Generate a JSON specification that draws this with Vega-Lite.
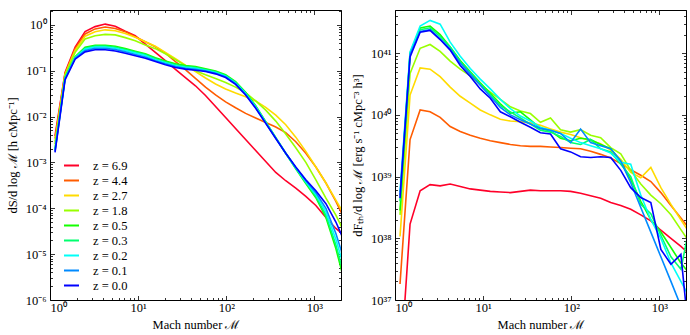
{
"$schema":"https://vega.github.io/schema/vega-lite/v6.json",
"padding":{"left":5,"top":9,"right":0,"bottom":0},
"background":"white",
"bounds":"flush",
"spacing":54,
"config":{"view":{"stroke":"black","strokeWidth":1},"font":"Liberation Serif","axis":{"labelFont":"Liberation Serif","labelFontSize":12.5,"labelColor":"black","titleFont":"Liberation Serif","titleFontSize":12.5,"titleFontWeight":"normal","titleColor":"black","tickColor":"black","tickWidth":0.8,"domain":false,"grid":false}},
"resolve":{"scale":{"color":"independent"}},
"datasets":{
"L":[
{"z":"6.9","M":1.14,"v":0.0038},{"z":"6.9","M":1.482,"v":0.0912},{"z":"6.9","M":1.928,"v":0.324},{"z":"6.9","M":2.5,"v":0.708},{"z":"6.9","M":3.251,"v":0.912},{"z":"6.9","M":4.227,"v":1.035},{"z":"6.9","M":5.495,"v":0.933},{"z":"6.9","M":7.145,"v":0.724},{"z":"6.9","M":9.268,"v":0.575},{"z":"6.9","M":12.05,"v":0.38},{"z":"6.9","M":15.67,"v":0.251},{"z":"6.9","M":20.37,"v":0.166},{"z":"6.9","M":26.49,"v":0.107},{"z":"6.9","M":34.36,"v":0.0708},{"z":"6.9","M":44.67,"v":0.0468},{"z":"6.9","M":58.08,"v":0.0288},{"z":"6.9","M":75.51,"v":0.0166},{"z":"6.9","M":98.17,"v":0.00955},{"z":"6.9","M":127.4,"v":0.0055},{"z":"6.9","M":165.6,"v":0.00316},{"z":"6.9","M":215.3,"v":0.00182},{"z":"6.9","M":279.9,"v":0.00105},{"z":"6.9","M":363.9,"v":6.03e-4},{"z":"6.9","M":472.1,"v":3.98e-4},{"z":"6.9","M":613.8,"v":2.75e-4},{"z":"6.9","M":798,"v":1.82e-4},{"z":"6.9","M":1037,"v":1.15e-4},{"z":"6.9","M":1349,"v":6.31e-5},{"z":"6.9","M":1750,"v":3.63e-5},{"z":"6.9","M":2275,"v":2.4e-5},
{"z":"4.4","M":1.14,"v":0.00331},{"z":"4.4","M":1.482,"v":0.0871},{"z":"4.4","M":1.928,"v":0.302},{"z":"4.4","M":2.5,"v":0.631},{"z":"4.4","M":3.251,"v":0.813},{"z":"4.4","M":4.227,"v":0.891},{"z":"4.4","M":5.495,"v":0.832},{"z":"4.4","M":7.145,"v":0.708},{"z":"4.4","M":9.268,"v":0.55},{"z":"4.4","M":12.05,"v":0.427},{"z":"4.4","M":15.67,"v":0.331},{"z":"4.4","M":20.37,"v":0.24},{"z":"4.4","M":26.49,"v":0.158},{"z":"4.4","M":34.36,"v":0.105},{"z":"4.4","M":44.67,"v":0.0676},{"z":"4.4","M":58.08,"v":0.0437},{"z":"4.4","M":75.51,"v":0.0295},{"z":"4.4","M":98.17,"v":0.0209},{"z":"4.4","M":127.4,"v":0.0155},{"z":"4.4","M":165.6,"v":0.0117},{"z":"4.4","M":215.3,"v":0.00933},{"z":"4.4","M":279.9,"v":0.00741},{"z":"4.4","M":363.9,"v":0.00589},{"z":"4.4","M":472.1,"v":0.00447},{"z":"4.4","M":613.8,"v":0.00282},{"z":"4.4","M":798,"v":0.00158},{"z":"4.4","M":1037,"v":7.94e-4},{"z":"4.4","M":1349,"v":3.55e-4},{"z":"4.4","M":1750,"v":1.41e-4},{"z":"4.4","M":2275,"v":5.01e-5},
{"z":"2.7","M":1.14,"v":0.00282},{"z":"2.7","M":1.482,"v":0.0813},{"z":"2.7","M":1.928,"v":0.275},{"z":"2.7","M":2.5,"v":0.562},{"z":"2.7","M":3.251,"v":0.708},{"z":"2.7","M":4.227,"v":0.776},{"z":"2.7","M":5.495,"v":0.741},{"z":"2.7","M":7.145,"v":0.646},{"z":"2.7","M":9.268,"v":0.537},{"z":"2.7","M":12.05,"v":0.427},{"z":"2.7","M":15.67,"v":0.339},{"z":"2.7","M":20.37,"v":0.251},{"z":"2.7","M":26.49,"v":0.182},{"z":"2.7","M":34.36,"v":0.132},{"z":"2.7","M":44.67,"v":0.0955},{"z":"2.7","M":58.08,"v":0.0692},{"z":"2.7","M":75.51,"v":0.0513},{"z":"2.7","M":98.17,"v":0.0398},{"z":"2.7","M":127.4,"v":0.0324},{"z":"2.7","M":165.6,"v":0.0269},{"z":"2.7","M":215.3,"v":0.0219},{"z":"2.7","M":279.9,"v":0.0158},{"z":"2.7","M":363.9,"v":0.0107},{"z":"2.7","M":472.1,"v":0.00661},{"z":"2.7","M":613.8,"v":0.00355},{"z":"2.7","M":798,"v":0.00174},{"z":"2.7","M":1037,"v":7.94e-4},{"z":"2.7","M":1349,"v":3.55e-4},{"z":"2.7","M":1750,"v":1.51e-4},{"z":"2.7","M":2275,"v":6.31e-5},
{"z":"1.8","M":1.14,"v":0.00251},{"z":"1.8","M":1.482,"v":0.0794},{"z":"1.8","M":1.928,"v":0.251},{"z":"1.8","M":2.5,"v":0.49},{"z":"1.8","M":3.251,"v":0.575},{"z":"1.8","M":4.227,"v":0.617},{"z":"1.8","M":5.495,"v":0.603},{"z":"1.8","M":7.145,"v":0.525},{"z":"1.8","M":9.268,"v":0.447},{"z":"1.8","M":12.05,"v":0.363},{"z":"1.8","M":15.67,"v":0.302},{"z":"1.8","M":20.37,"v":0.234},{"z":"1.8","M":26.49,"v":0.174},{"z":"1.8","M":34.36,"v":0.129},{"z":"1.8","M":44.67,"v":0.1},{"z":"1.8","M":58.08,"v":0.0813},{"z":"1.8","M":75.51,"v":0.0676},{"z":"1.8","M":98.17,"v":0.055},{"z":"1.8","M":127.4,"v":0.0437},{"z":"1.8","M":165.6,"v":0.0331},{"z":"1.8","M":215.3,"v":0.0219},{"z":"1.8","M":279.9,"v":0.0138},{"z":"1.8","M":363.9,"v":0.00794},{"z":"1.8","M":472.1,"v":0.00417},{"z":"1.8","M":613.8,"v":0.00209},{"z":"1.8","M":798,"v":0.001},{"z":"1.8","M":1037,"v":4.17e-4},{"z":"1.8","M":1349,"v":1.66e-4},{"z":"1.8","M":1750,"v":7.08e-5},{"z":"1.8","M":2275,"v":2.51e-5},
{"z":"0.5","M":1.14,"v":0.002},{"z":"0.5","M":1.482,"v":0.0708},{"z":"0.5","M":1.928,"v":0.2},{"z":"0.5","M":2.5,"v":0.324},{"z":"0.5","M":3.251,"v":0.359},{"z":"0.5","M":4.227,"v":0.359},{"z":"0.5","M":5.495,"v":0.339},{"z":"0.5","M":7.145,"v":0.302},{"z":"0.5","M":9.268,"v":0.266},{"z":"0.5","M":12.05,"v":0.234},{"z":"0.5","M":15.67,"v":0.19},{"z":"0.5","M":20.37,"v":0.162},{"z":"0.5","M":26.49,"v":0.141},{"z":"0.5","M":34.36,"v":0.13},{"z":"0.5","M":44.67,"v":0.123},{"z":"0.5","M":58.08,"v":0.11},{"z":"0.5","M":75.51,"v":0.0977},{"z":"0.5","M":98.17,"v":0.0813},{"z":"0.5","M":127.4,"v":0.0575},{"z":"0.5","M":165.6,"v":0.0339},{"z":"0.5","M":215.3,"v":0.0173},{"z":"0.5","M":279.9,"v":0.00776},{"z":"0.5","M":363.9,"v":0.00347},{"z":"0.5","M":472.1,"v":0.00158},{"z":"0.5","M":613.8,"v":7.24e-4},{"z":"0.5","M":798,"v":3.47e-4},{"z":"0.5","M":1037,"v":1.7e-4},{"z":"0.5","M":1349,"v":6.31e-5},{"z":"0.5","M":1750,"v":1.32e-5},{"z":"0.5","M":2275,"v":1.9e-6},
{"z":"0.3","M":1.14,"v":0.00191},{"z":"0.3","M":1.482,"v":0.0692},{"z":"0.3","M":1.928,"v":0.195},{"z":"0.3","M":2.5,"v":0.309},{"z":"0.3","M":3.251,"v":0.343},{"z":"0.3","M":4.227,"v":0.343},{"z":"0.3","M":5.495,"v":0.323},{"z":"0.3","M":7.145,"v":0.288},{"z":"0.3","M":9.268,"v":0.254},{"z":"0.3","M":12.05,"v":0.224},{"z":"0.3","M":15.67,"v":0.181},{"z":"0.3","M":20.37,"v":0.155},{"z":"0.3","M":26.49,"v":0.134},{"z":"0.3","M":34.36,"v":0.124},{"z":"0.3","M":44.67,"v":0.117},{"z":"0.3","M":58.08,"v":0.106},{"z":"0.3","M":75.51,"v":0.0944},{"z":"0.3","M":98.17,"v":0.0785},{"z":"0.3","M":127.4,"v":0.0556},{"z":"0.3","M":165.6,"v":0.0327},{"z":"0.3","M":215.3,"v":0.0167},{"z":"0.3","M":279.9,"v":0.00759},{"z":"0.3","M":363.9,"v":0.00347},{"z":"0.3","M":472.1,"v":0.00158},{"z":"0.3","M":613.8,"v":7.41e-4},{"z":"0.3","M":798,"v":3.63e-4},{"z":"0.3","M":1037,"v":1.82e-4},{"z":"0.3","M":1349,"v":7.08e-5},{"z":"0.3","M":1750,"v":1.58e-5},{"z":"0.3","M":2275,"v":2.5e-6},
{"z":"0.2","M":1.14,"v":0.00182},{"z":"0.2","M":1.482,"v":0.0676},{"z":"0.2","M":1.928,"v":0.191},{"z":"0.2","M":2.5,"v":0.295},{"z":"0.2","M":3.251,"v":0.327},{"z":"0.2","M":4.227,"v":0.327},{"z":"0.2","M":5.495,"v":0.309},{"z":"0.2","M":7.145,"v":0.276},{"z":"0.2","M":9.268,"v":0.242},{"z":"0.2","M":12.05,"v":0.214},{"z":"0.2","M":15.67,"v":0.173},{"z":"0.2","M":20.37,"v":0.148},{"z":"0.2","M":26.49,"v":0.128},{"z":"0.2","M":34.36,"v":0.118},{"z":"0.2","M":44.67,"v":0.112},{"z":"0.2","M":58.08,"v":0.102},{"z":"0.2","M":75.51,"v":0.0912},{"z":"0.2","M":98.17,"v":0.0759},{"z":"0.2","M":127.4,"v":0.0537},{"z":"0.2","M":165.6,"v":0.0316},{"z":"0.2","M":215.3,"v":0.0162},{"z":"0.2","M":279.9,"v":0.00741},{"z":"0.2","M":363.9,"v":0.00339},{"z":"0.2","M":472.1,"v":0.00158},{"z":"0.2","M":613.8,"v":7.58e-4},{"z":"0.2","M":798,"v":3.8e-4},{"z":"0.2","M":1037,"v":2.0e-4},{"z":"0.2","M":1349,"v":8.33e-5},{"z":"0.2","M":1750,"v":2.09e-5},{"z":"0.2","M":2275,"v":3.79e-6},
{"z":"0.1","M":1.14,"v":0.00174},{"z":"0.1","M":1.482,"v":0.0661},{"z":"0.1","M":1.928,"v":0.186},{"z":"0.1","M":2.5,"v":0.276},{"z":"0.1","M":3.251,"v":0.306},{"z":"0.1","M":4.227,"v":0.306},{"z":"0.1","M":5.495,"v":0.288},{"z":"0.1","M":7.145,"v":0.257},{"z":"0.1","M":9.268,"v":0.226},{"z":"0.1","M":12.05,"v":0.199},{"z":"0.1","M":15.67,"v":0.165},{"z":"0.1","M":20.37,"v":0.141},{"z":"0.1","M":26.49,"v":0.123},{"z":"0.1","M":34.36,"v":0.113},{"z":"0.1","M":44.67,"v":0.107},{"z":"0.1","M":58.08,"v":0.0988},{"z":"0.1","M":75.51,"v":0.0881},{"z":"0.1","M":98.17,"v":0.0733},{"z":"0.1","M":127.4,"v":0.0519},{"z":"0.1","M":165.6,"v":0.0305},{"z":"0.1","M":215.3,"v":0.0156},{"z":"0.1","M":279.9,"v":0.00724},{"z":"0.1","M":363.9,"v":0.00339},{"z":"0.1","M":472.1,"v":0.00158},{"z":"0.1","M":613.8,"v":7.76e-4},{"z":"0.1","M":798,"v":3.98e-4},{"z":"0.1","M":1037,"v":2.19e-4},{"z":"0.1","M":1349,"v":1.0e-4},{"z":"0.1","M":1750,"v":2.82e-5},{"z":"0.1","M":2275,"v":5.61e-6},
{"z":"0.0","M":1.14,"v":0.00166},{"z":"0.0","M":1.482,"v":0.0631},{"z":"0.0","M":1.928,"v":0.178},{"z":"0.0","M":2.5,"v":0.257},{"z":"0.0","M":3.251,"v":0.285},{"z":"0.0","M":4.227,"v":0.285},{"z":"0.0","M":5.495,"v":0.269},{"z":"0.0","M":7.145,"v":0.24},{"z":"0.0","M":9.268,"v":0.211},{"z":"0.0","M":12.05,"v":0.186},{"z":"0.0","M":15.67,"v":0.158},{"z":"0.0","M":20.37,"v":0.135},{"z":"0.0","M":26.49,"v":0.117},{"z":"0.0","M":34.36,"v":0.108},{"z":"0.0","M":44.67,"v":0.102},{"z":"0.0","M":58.08,"v":0.0955},{"z":"0.0","M":75.51,"v":0.0851},{"z":"0.0","M":98.17,"v":0.0708},{"z":"0.0","M":127.4,"v":0.0501},{"z":"0.0","M":165.6,"v":0.0295},{"z":"0.0","M":215.3,"v":0.0151},{"z":"0.0","M":279.9,"v":0.00708},{"z":"0.0","M":363.9,"v":0.00331},{"z":"0.0","M":472.1,"v":0.00158},{"z":"0.0","M":613.8,"v":7.94e-4},{"z":"0.0","M":798,"v":4.17e-4},{"z":"0.0","M":1037,"v":2.4e-4},{"z":"0.0","M":1349,"v":1.26e-4},{"z":"0.0","M":1750,"v":5.01e-5},{"z":"0.0","M":2275,"v":1.58e-5}
],
"R":[
{"z":"6.9","M":1.14,"v":6.31e35},{"z":"6.9","M":1.482,"v":1.7e38},{"z":"6.9","M":1.928,"v":5.89e38},{"z":"6.9","M":2.5,"v":7.41e38},{"z":"6.9","M":3.251,"v":7.08e38},{"z":"6.9","M":4.227,"v":7.59e38},{"z":"6.9","M":5.495,"v":6.92e38},{"z":"6.9","M":7.145,"v":6.31e38},{"z":"6.9","M":9.268,"v":6.03e38},{"z":"6.9","M":12.05,"v":5.75e38},{"z":"6.9","M":15.67,"v":5.62e38},{"z":"6.9","M":20.37,"v":5.5e38},{"z":"6.9","M":26.49,"v":5.75e38},{"z":"6.9","M":34.36,"v":6.03e38},{"z":"6.9","M":44.67,"v":5.89e38},{"z":"6.9","M":58.08,"v":5.89e38},{"z":"6.9","M":75.51,"v":5.89e38},{"z":"6.9","M":98.17,"v":5.75e38},{"z":"6.9","M":127.4,"v":5.37e38},{"z":"6.9","M":165.6,"v":4.9e38},{"z":"6.9","M":215.3,"v":4.47e38},{"z":"6.9","M":279.9,"v":3.8e38},{"z":"6.9","M":363.9,"v":3.39e38},{"z":"6.9","M":472.1,"v":2.95e38},{"z":"6.9","M":613.8,"v":2.4e38},{"z":"6.9","M":798,"v":1.91e38},{"z":"6.9","M":1037,"v":1.35e38},{"z":"6.9","M":1349,"v":1.0e38},{"z":"6.9","M":1750,"v":7.41e37},{"z":"6.9","M":2275,"v":5.25e37},
{"z":"4.4","M":1.14,"v":1.82e37},{"z":"4.4","M":1.482,"v":3.98e39},{"z":"4.4","M":1.928,"v":1.2e40},{"z":"4.4","M":2.5,"v":1.12e40},{"z":"4.4","M":3.251,"v":9.12e39},{"z":"4.4","M":4.227,"v":6.46e39},{"z":"4.4","M":5.495,"v":5.37e39},{"z":"4.4","M":7.145,"v":4.68e39},{"z":"4.4","M":9.268,"v":4.17e39},{"z":"4.4","M":12.05,"v":3.8e39},{"z":"4.4","M":15.67,"v":3.55e39},{"z":"4.4","M":20.37,"v":3.31e39},{"z":"4.4","M":26.49,"v":3.16e39},{"z":"4.4","M":34.36,"v":3.09e39},{"z":"4.4","M":44.67,"v":3.09e39},{"z":"4.4","M":58.08,"v":3.02e39},{"z":"4.4","M":75.51,"v":2.95e39},{"z":"4.4","M":98.17,"v":2.88e39},{"z":"4.4","M":127.4,"v":2.82e39},{"z":"4.4","M":165.6,"v":2.57e39},{"z":"4.4","M":215.3,"v":2.29e39},{"z":"4.4","M":279.9,"v":2.0e39},{"z":"4.4","M":363.9,"v":1.62e39},{"z":"4.4","M":472.1,"v":1.29e39},{"z":"4.4","M":613.8,"v":1.05e39},{"z":"4.4","M":798,"v":8.32e38},{"z":"4.4","M":1037,"v":5.5e38},{"z":"4.4","M":1349,"v":3.39e38},{"z":"4.4","M":1750,"v":2.14e38},{"z":"4.4","M":2275,"v":1.32e38},
{"z":"2.7","M":1.14,"v":1.07e38},{"z":"2.7","M":1.482,"v":2.09e40},{"z":"2.7","M":1.928,"v":5.75e40},{"z":"2.7","M":2.5,"v":5.5e40},{"z":"2.7","M":3.251,"v":4.17e40},{"z":"2.7","M":4.227,"v":2.82e40},{"z":"2.7","M":5.495,"v":2.0e40},{"z":"2.7","M":7.145,"v":1.55e40},{"z":"2.7","M":9.268,"v":1.2e40},{"z":"2.7","M":12.05,"v":1.0e40},{"z":"2.7","M":15.67,"v":8.51e39},{"z":"2.7","M":20.37,"v":7.94e39},{"z":"2.7","M":26.49,"v":7.76e39},{"z":"2.7","M":34.36,"v":7.41e39},{"z":"2.7","M":44.67,"v":6.76e39},{"z":"2.7","M":58.08,"v":5.89e39},{"z":"2.7","M":75.51,"v":5.25e39},{"z":"2.7","M":98.17,"v":4.79e39},{"z":"2.7","M":127.4,"v":4.27e39},{"z":"2.7","M":165.6,"v":3.8e39},{"z":"2.7","M":215.3,"v":3.39e39},{"z":"2.7","M":279.9,"v":2.69e39},{"z":"2.7","M":363.9,"v":1.91e39},{"z":"2.7","M":472.1,"v":1.17e39},{"z":"2.7","M":613.8,"v":9.55e38},{"z":"2.7","M":798,"v":1.41e39},{"z":"2.7","M":1037,"v":6.61e38},{"z":"2.7","M":1349,"v":3.55e38},{"z":"2.7","M":1750,"v":2.0e38},{"z":"2.7","M":2275,"v":1.12e38},
{"z":"1.8","M":1.14,"v":2.4e38},{"z":"1.8","M":1.482,"v":4.68e40},{"z":"1.8","M":1.928,"v":1.2e41},{"z":"1.8","M":2.5,"v":1.38e41},{"z":"1.8","M":3.251,"v":1.07e41},{"z":"1.8","M":4.227,"v":7.41e40},{"z":"1.8","M":5.495,"v":5.5e40},{"z":"1.8","M":7.145,"v":4.27e40},{"z":"1.8","M":9.268,"v":3.09e40},{"z":"1.8","M":12.05,"v":2.34e40},{"z":"1.8","M":15.67,"v":1.78e40},{"z":"1.8","M":20.37,"v":1.35e40},{"z":"1.8","M":26.49,"v":1.15e40},{"z":"1.8","M":34.36,"v":1.05e40},{"z":"1.8","M":44.67,"v":7.59e39},{"z":"1.8","M":58.08,"v":8.91e39},{"z":"1.8","M":75.51,"v":5.75e39},{"z":"1.8","M":98.17,"v":5.25e39},{"z":"1.8","M":127.4,"v":5.75e39},{"z":"1.8","M":165.6,"v":4.68e39},{"z":"1.8","M":215.3,"v":4.27e39},{"z":"1.8","M":279.9,"v":2.95e39},{"z":"1.8","M":363.9,"v":2.34e39},{"z":"1.8","M":472.1,"v":1.26e39},{"z":"1.8","M":613.8,"v":7.59e38},{"z":"1.8","M":798,"v":5.01e38},{"z":"1.8","M":1037,"v":3.63e38},{"z":"1.8","M":1349,"v":2.4e38},{"z":"1.8","M":1750,"v":1.38e38},{"z":"1.8","M":2275,"v":7.94e37},
{"z":"0.5","M":1.14,"v":2.82e38},{"z":"0.5","M":1.482,"v":1.0e41},{"z":"0.5","M":1.928,"v":2.57e41},{"z":"0.5","M":2.5,"v":2.75e41},{"z":"0.5","M":3.251,"v":2.0e41},{"z":"0.5","M":4.227,"v":1.26e41},{"z":"0.5","M":5.495,"v":7.59e40},{"z":"0.5","M":7.145,"v":5.01e40},{"z":"0.5","M":9.268,"v":3.31e40},{"z":"0.5","M":12.05,"v":2.24e40},{"z":"0.5","M":15.67,"v":1.51e40},{"z":"0.5","M":20.37,"v":1.07e40},{"z":"0.5","M":26.49,"v":1.12e40},{"z":"0.5","M":34.36,"v":8.32e39},{"z":"0.5","M":44.67,"v":6.03e39},{"z":"0.5","M":58.08,"v":5.5e39},{"z":"0.5","M":75.51,"v":4.17e39},{"z":"0.5","M":98.17,"v":3.8e39},{"z":"0.5","M":127.4,"v":4.17e39},{"z":"0.5","M":165.6,"v":3.98e39},{"z":"0.5","M":215.3,"v":3.31e39},{"z":"0.5","M":279.9,"v":2.82e39},{"z":"0.5","M":363.9,"v":1.78e39},{"z":"0.5","M":472.1,"v":8.91e38},{"z":"0.5","M":613.8,"v":3.98e38},{"z":"0.5","M":798,"v":2.0e38},{"z":"0.5","M":1037,"v":1.26e38},{"z":"0.5","M":1349,"v":7.08e37},{"z":"0.5","M":1750,"v":3.98e37},{"z":"0.5","M":2275,"v":2.51e37},
{"z":"0.3","M":1.14,"v":3.98e38},{"z":"0.3","M":1.482,"v":1.0e41},{"z":"0.3","M":1.928,"v":2.4e41},{"z":"0.3","M":2.5,"v":2.57e41},{"z":"0.3","M":3.251,"v":1.86e41},{"z":"0.3","M":4.227,"v":1.26e41},{"z":"0.3","M":5.495,"v":7.24e40},{"z":"0.3","M":7.145,"v":4.79e40},{"z":"0.3","M":9.268,"v":3.16e40},{"z":"0.3","M":12.05,"v":2.14e40},{"z":"0.3","M":15.67,"v":1.41e40},{"z":"0.3","M":20.37,"v":1.12e40},{"z":"0.3","M":26.49,"v":8.91e39},{"z":"0.3","M":34.36,"v":7.08e39},{"z":"0.3","M":44.67,"v":5.62e39},{"z":"0.3","M":58.08,"v":5.25e39},{"z":"0.3","M":75.51,"v":4.47e39},{"z":"0.3","M":98.17,"v":3.55e39},{"z":"0.3","M":127.4,"v":3.31e39},{"z":"0.3","M":165.6,"v":3.98e39},{"z":"0.3","M":215.3,"v":2.82e39},{"z":"0.3","M":279.9,"v":2.51e39},{"z":"0.3","M":363.9,"v":1.58e39},{"z":"0.3","M":472.1,"v":1.0e39},{"z":"0.3","M":613.8,"v":3.55e38},{"z":"0.3","M":798,"v":2.51e38},{"z":"0.3","M":1037,"v":1.12e38},{"z":"0.3","M":1349,"v":5.01e37},{"z":"0.3","M":1750,"v":3.16e37},{"z":"0.3","M":2275,"v":2.0e38},
{"z":"0.2","M":1.14,"v":5.62e38},{"z":"0.2","M":1.482,"v":1.05e41},{"z":"0.2","M":1.928,"v":2.75e41},{"z":"0.2","M":2.5,"v":3.39e41},{"z":"0.2","M":3.251,"v":2.95e41},{"z":"0.2","M":4.227,"v":1.51e41},{"z":"0.2","M":5.495,"v":8.91e40},{"z":"0.2","M":7.145,"v":5.62e40},{"z":"0.2","M":9.268,"v":3.8e40},{"z":"0.2","M":12.05,"v":2.63e40},{"z":"0.2","M":15.67,"v":1.78e40},{"z":"0.2","M":20.37,"v":1.26e40},{"z":"0.2","M":26.49,"v":9.55e39},{"z":"0.2","M":34.36,"v":7.94e39},{"z":"0.2","M":44.67,"v":6.31e39},{"z":"0.2","M":58.08,"v":5.62e39},{"z":"0.2","M":75.51,"v":5.01e39},{"z":"0.2","M":98.17,"v":4.17e39},{"z":"0.2","M":127.4,"v":3.55e39},{"z":"0.2","M":165.6,"v":3.16e39},{"z":"0.2","M":215.3,"v":2.82e39},{"z":"0.2","M":279.9,"v":2.4e39},{"z":"0.2","M":363.9,"v":1.7e39},{"z":"0.2","M":472.1,"v":1.58e39},{"z":"0.2","M":613.8,"v":5.01e38},{"z":"0.2","M":798,"v":2.0e38},{"z":"0.2","M":1037,"v":1.0e38},{"z":"0.2","M":1349,"v":3.98e37},{"z":"0.2","M":1750,"v":2.0e37},{"z":"0.2","M":2275,"v":1.0e37},
{"z":"0.1","M":1.14,"v":5.01e38},{"z":"0.1","M":1.482,"v":9.55e40},{"z":"0.1","M":1.928,"v":2.24e41},{"z":"0.1","M":2.5,"v":2.4e41},{"z":"0.1","M":3.251,"v":1.7e41},{"z":"0.1","M":4.227,"v":1.17e41},{"z":"0.1","M":5.495,"v":6.92e40},{"z":"0.1","M":7.145,"v":4.57e40},{"z":"0.1","M":9.268,"v":3.02e40},{"z":"0.1","M":12.05,"v":2.0e40},{"z":"0.1","M":15.67,"v":1.32e40},{"z":"0.1","M":20.37,"v":1.0e40},{"z":"0.1","M":26.49,"v":8.32e39},{"z":"0.1","M":34.36,"v":7.08e39},{"z":"0.1","M":44.67,"v":6.03e39},{"z":"0.1","M":58.08,"v":5.62e39},{"z":"0.1","M":75.51,"v":5.01e39},{"z":"0.1","M":98.17,"v":3.55e39},{"z":"0.1","M":127.4,"v":5.89e39},{"z":"0.1","M":165.6,"v":3.55e39},{"z":"0.1","M":215.3,"v":3.16e39},{"z":"0.1","M":279.9,"v":2.82e39},{"z":"0.1","M":363.9,"v":1.78e39},{"z":"0.1","M":472.1,"v":7.94e38},{"z":"0.1","M":613.8,"v":3.16e38},{"z":"0.1","M":798,"v":1.26e38},{"z":"0.1","M":1037,"v":5.01e37},{"z":"0.1","M":1349,"v":2.0e37},{"z":"0.1","M":1750,"v":7.94e36},{"z":"0.1","M":2275,"v":3.16e36},
{"z":"0.0","M":1.14,"v":4.47e38},{"z":"0.0","M":1.482,"v":8.71e40},{"z":"0.0","M":1.928,"v":2.19e41},{"z":"0.0","M":2.5,"v":2.34e41},{"z":"0.0","M":3.251,"v":1.66e41},{"z":"0.0","M":4.227,"v":1.12e41},{"z":"0.0","M":5.495,"v":6.31e40},{"z":"0.0","M":7.145,"v":4.17e40},{"z":"0.0","M":9.268,"v":2.63e40},{"z":"0.0","M":12.05,"v":1.86e40},{"z":"0.0","M":15.67,"v":1.12e40},{"z":"0.0","M":20.37,"v":9.33e39},{"z":"0.0","M":26.49,"v":7.59e39},{"z":"0.0","M":34.36,"v":6.31e39},{"z":"0.0","M":44.67,"v":5.13e39},{"z":"0.0","M":58.08,"v":4.9e39},{"z":"0.0","M":75.51,"v":2.82e39},{"z":"0.0","M":98.17,"v":2.51e39},{"z":"0.0","M":127.4,"v":2.09e39},{"z":"0.0","M":165.6,"v":2.04e39},{"z":"0.0","M":215.3,"v":2.09e39},{"z":"0.0","M":279.9,"v":2.04e39},{"z":"0.0","M":363.9,"v":1.26e39},{"z":"0.0","M":472.1,"v":6.61e38},{"z":"0.0","M":613.8,"v":4.57e38},{"z":"0.0","M":798,"v":3.8e38},{"z":"0.0","M":1037,"v":6.61e37},{"z":"0.0","M":1349,"v":3.8e37},{"z":"0.0","M":1750,"v":5.5e37},{"z":"0.0","M":2275,"v":1.26e36}
]
},
"hconcat":[
{"width":291,"height":290,
 "resolve":{"axis":{"x":"independent","y":"independent"}},
 "layer":[
  {"data":{"name":"L"},"mark":{"type":"line","clip":true,"strokeWidth":1.6},
   "encoding":{
    "x":{"field":"M","type":"quantitative","scale":{"type":"log","domain":[1,2000],"nice":false},
         "axis":{"orient":"bottom","values":[1,10,100,1000],"ticks":false,"labelPadding":1,"labelExpr":"datum.value < 5 ? '10⁰' : datum.value < 50 ? '10¹' : datum.value < 500 ? '10²' : '10³'","title":"Mach number ℳ","titlePadding":5}},
    "y":{"field":"v","type":"quantitative","scale":{"type":"log","domain":[1e-6,2.1],"nice":false},
         "axis":{"orient":"left","values":[1e-6,1e-5,1e-4,1e-3,0.01,0.1,1],"ticks":false,"labelPadding":4,"labelExpr":"datum.value > 0.5 ? '10⁰' : datum.value > 0.05 ? '10⁻¹' : datum.value > 0.005 ? '10⁻²' : datum.value > 0.0005 ? '10⁻³' : datum.value > 0.00005 ? '10⁻⁴' : datum.value > 0.000005 ? '10⁻⁵' : '10⁻⁶'","title":"dS/d log ℳ [h cMpc⁻¹]","titlePadding":6}},
    "color":{"field":"z","type":"nominal","scale":{"domain":["6.9","4.4","2.7","1.8","0.5","0.3","0.2","0.1","0.0"],"range":["#ff0029","#ff5c00","#ffdb00","#99ff00","#14ff00","#00ff6e","#00fff7","#008aff","#0000ff"]},
      "legend":{"orient":"none","legendX":13,"legendY":147,"title":null,"symbolType":"stroke","symbolSize":225,"symbolStrokeWidth":2,"labelExpr":"'z = ' + datum.label","labelFont":"Liberation Serif","labelFontSize":12.5,"labelColor":"black","labelOffset":13,"rowPadding":0,"padding":0}}
   }},
  {"data":{"values":[{"M":10,"v":0.1}]},"mark":{"type":"point","opacity":0},
   "encoding":{
    "x":{"field":"M","type":"quantitative","scale":{"type":"log","domain":[1,2000],"nice":false},"axis":{"orient":"bottom","values":[1,10,100,1000],"labels":false,"tickSize":-4.5,"title":null}},
    "y":{"field":"v","type":"quantitative","scale":{"type":"log","domain":[1e-6,2.1],"nice":false},"axis":{"orient":"left","values":[1e-6,1e-5,1e-4,1e-3,0.01,0.1,1],"labels":false,"tickSize":-4.5,"title":null}}}},
  {"data":{"values":[{"M":10,"v":0.1}]},"mark":{"type":"point","opacity":0},
   "encoding":{
    "x":{"field":"M","type":"quantitative","scale":{"type":"log","domain":[1,2000],"nice":false},"axis":{"orient":"top","values":[1,10,100,1000],"labels":false,"tickSize":-4.5,"title":null}},
    "y":{"field":"v","type":"quantitative","scale":{"type":"log","domain":[1e-6,2.1],"nice":false},"axis":{"orient":"right","values":[1e-6,1e-5,1e-4,1e-3,0.01,0.1,1],"labels":false,"tickSize":-4.5,"title":null}}}},
  {"data":{"values":[{"M":10,"v":0.1}]},"mark":{"type":"point","opacity":0},
   "encoding":{
    "x":{"field":"M","type":"quantitative","scale":{"type":"log","domain":[1,2000],"nice":false},"axis":{"orient":"bottom","values":[2,3,4,5,6,7,8,9,20,30,40,50,60,70,80,90,200,300,400,500,600,700,800,900,2000],"labels":false,"tickSize":-2.5,"title":null}},
    "y":{"field":"v","type":"quantitative","scale":{"type":"log","domain":[1e-6,2.1],"nice":false},"axis":{"orient":"left","values":[2e-6,3e-6,4e-6,5e-6,6e-6,7e-6,8e-6,9e-6,2e-5,3e-5,4e-5,5e-5,6e-5,7e-5,8e-5,9e-5,2e-4,3e-4,4e-4,5e-4,6e-4,7e-4,8e-4,9e-4,0.002,0.003,0.004,0.005,0.006,0.007,0.008,0.009,0.02,0.03,0.04,0.05,0.06,0.07,0.08,0.09,0.2,0.3,0.4,0.5,0.6,0.7,0.8,0.9,2],"labels":false,"tickSize":-2.5,"title":null}}}},
  {"data":{"values":[{"M":10,"v":0.1}]},"mark":{"type":"point","opacity":0},
   "encoding":{
    "x":{"field":"M","type":"quantitative","scale":{"type":"log","domain":[1,2000],"nice":false},"axis":{"orient":"top","values":[2,3,4,5,6,7,8,9,20,30,40,50,60,70,80,90,200,300,400,500,600,700,800,900,2000],"labels":false,"tickSize":-2.5,"title":null}},
    "y":{"field":"v","type":"quantitative","scale":{"type":"log","domain":[1e-6,2.1],"nice":false},"axis":{"orient":"right","values":[2e-6,3e-6,4e-6,5e-6,6e-6,7e-6,8e-6,9e-6,2e-5,3e-5,4e-5,5e-5,6e-5,7e-5,8e-5,9e-5,2e-4,3e-4,4e-4,5e-4,6e-4,7e-4,8e-4,9e-4,0.002,0.003,0.004,0.005,0.006,0.007,0.008,0.009,0.02,0.03,0.04,0.05,0.06,0.07,0.08,0.09,0.2,0.3,0.4,0.5,0.6,0.7,0.8,0.9,2],"labels":false,"tickSize":-2.5,"title":null}}}}
 ]},
{"width":291,"height":290,
 "resolve":{"axis":{"x":"independent","y":"independent"}},
 "layer":[
  {"data":{"name":"R"},"mark":{"type":"line","clip":true,"strokeWidth":1.6},
   "encoding":{
    "x":{"field":"M","type":"quantitative","scale":{"type":"log","domain":[1,2000],"nice":false},
         "axis":{"orient":"bottom","values":[1,10,100,1000],"ticks":false,"labelPadding":1,"labelExpr":"datum.value < 5 ? '10⁰' : datum.value < 50 ? '10¹' : datum.value < 500 ? '10²' : '10³'","title":"Mach number ℳ","titlePadding":5}},
    "y":{"field":"v","type":"quantitative","scale":{"type":"log","domain":[1e37,5e41],"nice":false},
         "axis":{"orient":"left","values":[1e37,1e38,1e39,1e40,1e41],"ticks":false,"labelPadding":4,"labelExpr":"datum.value > 5e40 ? '10⁴¹' : datum.value > 5e39 ? '10⁴⁰' : datum.value > 5e38 ? '10³⁹' : datum.value > 5e37 ? '10³⁸' : '10³⁷'","title":"dFₜₕ/d log ℳ [erg s⁻¹ cMpc⁻³ h³]","titlePadding":6}},
    "color":{"field":"z","type":"nominal","scale":{"domain":["6.9","4.4","2.7","1.8","0.5","0.3","0.2","0.1","0.0"],"range":["#ff0029","#ff5c00","#ffdb00","#99ff00","#14ff00","#00ff6e","#00fff7","#008aff","#0000ff"]},"legend":null}
   }},
  {"data":{"values":[{"M":10,"v":1e39}]},"mark":{"type":"point","opacity":0},
   "encoding":{
    "x":{"field":"M","type":"quantitative","scale":{"type":"log","domain":[1,2000],"nice":false},"axis":{"orient":"bottom","values":[1,10,100,1000],"labels":false,"tickSize":-4.5,"title":null}},
    "y":{"field":"v","type":"quantitative","scale":{"type":"log","domain":[1e37,5e41],"nice":false},"axis":{"orient":"left","values":[1e37,1e38,1e39,1e40,1e41],"labels":false,"tickSize":-4.5,"title":null}}}},
  {"data":{"values":[{"M":10,"v":1e39}]},"mark":{"type":"point","opacity":0},
   "encoding":{
    "x":{"field":"M","type":"quantitative","scale":{"type":"log","domain":[1,2000],"nice":false},"axis":{"orient":"top","values":[1,10,100,1000],"labels":false,"tickSize":-4.5,"title":null}},
    "y":{"field":"v","type":"quantitative","scale":{"type":"log","domain":[1e37,5e41],"nice":false},"axis":{"orient":"right","values":[1e37,1e38,1e39,1e40,1e41],"labels":false,"tickSize":-4.5,"title":null}}}},
  {"data":{"values":[{"M":10,"v":1e39}]},"mark":{"type":"point","opacity":0},
   "encoding":{
    "x":{"field":"M","type":"quantitative","scale":{"type":"log","domain":[1,2000],"nice":false},"axis":{"orient":"bottom","values":[2,3,4,5,6,7,8,9,20,30,40,50,60,70,80,90,200,300,400,500,600,700,800,900,2000],"labels":false,"tickSize":-2.5,"title":null}},
    "y":{"field":"v","type":"quantitative","scale":{"type":"log","domain":[1e37,5e41],"nice":false},"axis":{"orient":"left","values":[2e37,3e37,4e37,5e37,6e37,7e37,8e37,9e37,2e38,3e38,4e38,5e38,6e38,7e38,8e38,9e38,2e39,3e39,4e39,5e39,6e39,7e39,8e39,9e39,2e40,3e40,4e40,5e40,6e40,7e40,8e40,9e40,2e41,3e41,4e41,5e41],"labels":false,"tickSize":-2.5,"title":null}}}},
  {"data":{"values":[{"M":10,"v":1e39}]},"mark":{"type":"point","opacity":0},
   "encoding":{
    "x":{"field":"M","type":"quantitative","scale":{"type":"log","domain":[1,2000],"nice":false},"axis":{"orient":"top","values":[2,3,4,5,6,7,8,9,20,30,40,50,60,70,80,90,200,300,400,500,600,700,800,900,2000],"labels":false,"tickSize":-2.5,"title":null}},
    "y":{"field":"v","type":"quantitative","scale":{"type":"log","domain":[1e37,5e41],"nice":false},"axis":{"orient":"right","values":[2e37,3e37,4e37,5e37,6e37,7e37,8e37,9e37,2e38,3e38,4e38,5e38,6e38,7e38,8e38,9e38,2e39,3e39,4e39,5e39,6e39,7e39,8e39,9e39,2e40,3e40,4e40,5e40,6e40,7e40,8e40,9e40,2e41,3e41,4e41,5e41],"labels":false,"tickSize":-2.5,"title":null}}}}
 ]}
]
}
